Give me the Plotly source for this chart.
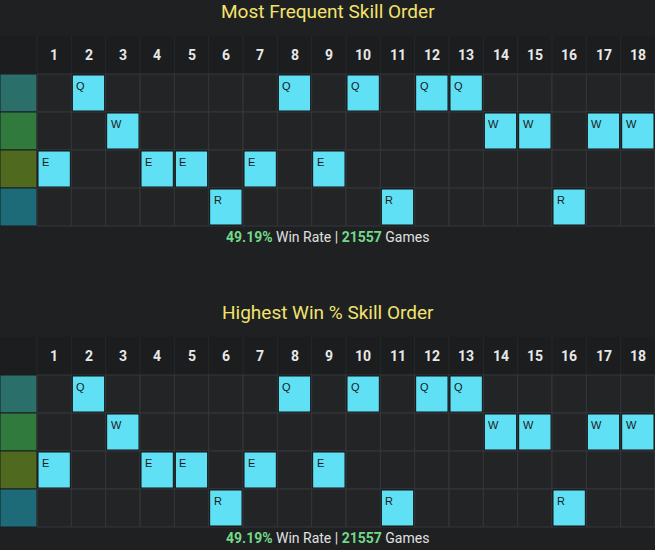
import plotly.graph_objects as go

levels = list(range(1, 19))
skills = ["Q", "W", "E", "R"]
# skill taken at each level
most_frequent_order = ["E", "Q", "W", "E", "E", "R", "E", "Q", "E", "Q", "R", "Q", "Q", "W", "W", "R", "W", "W"]
highest_win_order = ["E", "Q", "W", "E", "E", "R", "E", "Q", "E", "Q", "R", "Q", "Q", "W", "W", "R", "W", "W"]
icon_colors = ["#2a6f6a", "#2f7a3c", "#4f6a1e", "#1d6a78"]
sections = [
    ("Most Frequent Skill Order", most_frequent_order, "49.19%", "21557"),
    ("Highest Win % Skill Order", highest_win_order, "49.19%", "21557"),
]

W, H = 655, 550
col0, colw = 37, (655 - 37) / 18
rowh = 38

fig = go.Figure()
shapes, annots = [], []
for s, (title, order, wr, games) in enumerate(sections):
    top = 36 + s * 301
    annots.append(dict(x=W / 2, y=top - 25, text=title, showarrow=False,
                       font=dict(size=19, color="#f2e36c", family="Roboto")))
    # header band
    shapes.append(dict(type="rect", x0=0, x1=W, y0=top, y1=top + rowh,
                       fillcolor="#1b1d1f", line_width=0, layer="below"))
    for c in levels:
        x0 = col0 + (c - 1) * colw
        annots.append(dict(x=x0 + colw / 2, y=top + rowh / 2, text=f"<b>{c}</b>",
                           showarrow=False, font=dict(size=14, color="#e8e8e8", family="Roboto")))
        shapes.append(dict(type="line", x0=x0, x1=x0, y0=top, y1=top + rowh,
                           line=dict(color="#26292b", width=1)))
    for r, sk in enumerate(skills):
        y0 = top + rowh * (r + 1)
        shapes.append(dict(type="rect", x0=0, x1=col0, y0=y0, y1=y0 + rowh,
                           fillcolor=icon_colors[r], line=dict(color="#1b1d1f", width=1)))
        for c in levels:
            x0 = col0 + (c - 1) * colw
            shapes.append(dict(type="rect", x0=x0, x1=x0 + colw, y0=y0, y1=y0 + rowh,
                               fillcolor="#222426", line=dict(color="#34373a", width=1)))
            if order[c - 1] == sk:
                shapes.append(dict(type="rect", x0=x0 + 1, x1=x0 + colw - 1, y0=y0 + 1, y1=y0 + rowh - 1,
                                   fillcolor="#5fe0f4", line=dict(color="#111", width=1)))
                annots.append(dict(x=x0 + 3, y=y0 + 4, text=sk, showarrow=False,
                                   xanchor="left", yanchor="top",
                                   font=dict(size=11, color="#1a1a1a", family="Arial")))
    bottom = top + rowh * 5
    annots.append(dict(x=W / 2, y=bottom + 11,
                       text=f"<b><span style='color:#72d98a'>{wr}</span></b> Win Rate | "
                            f"<b><span style='color:#72d98a'>{games}</span></b> Games",
                       showarrow=False, font=dict(size=14, color="#e0e0e0", family="Roboto")))

fig.update_layout(
    width=W, height=H, margin=dict(l=0, r=0, t=0, b=0),
    paper_bgcolor="#1e2022", plot_bgcolor="#1e2022",
    xaxis=dict(range=[0, W], visible=False, fixedrange=True),
    yaxis=dict(range=[H, 0], visible=False, fixedrange=True),
    shapes=shapes, annotations=annots, showlegend=False,
)
fig.write_html("out.html", config={"displayModeBar": False},
               post_script="document.body.style.margin='0';document.body.style.overflow='hidden';")
